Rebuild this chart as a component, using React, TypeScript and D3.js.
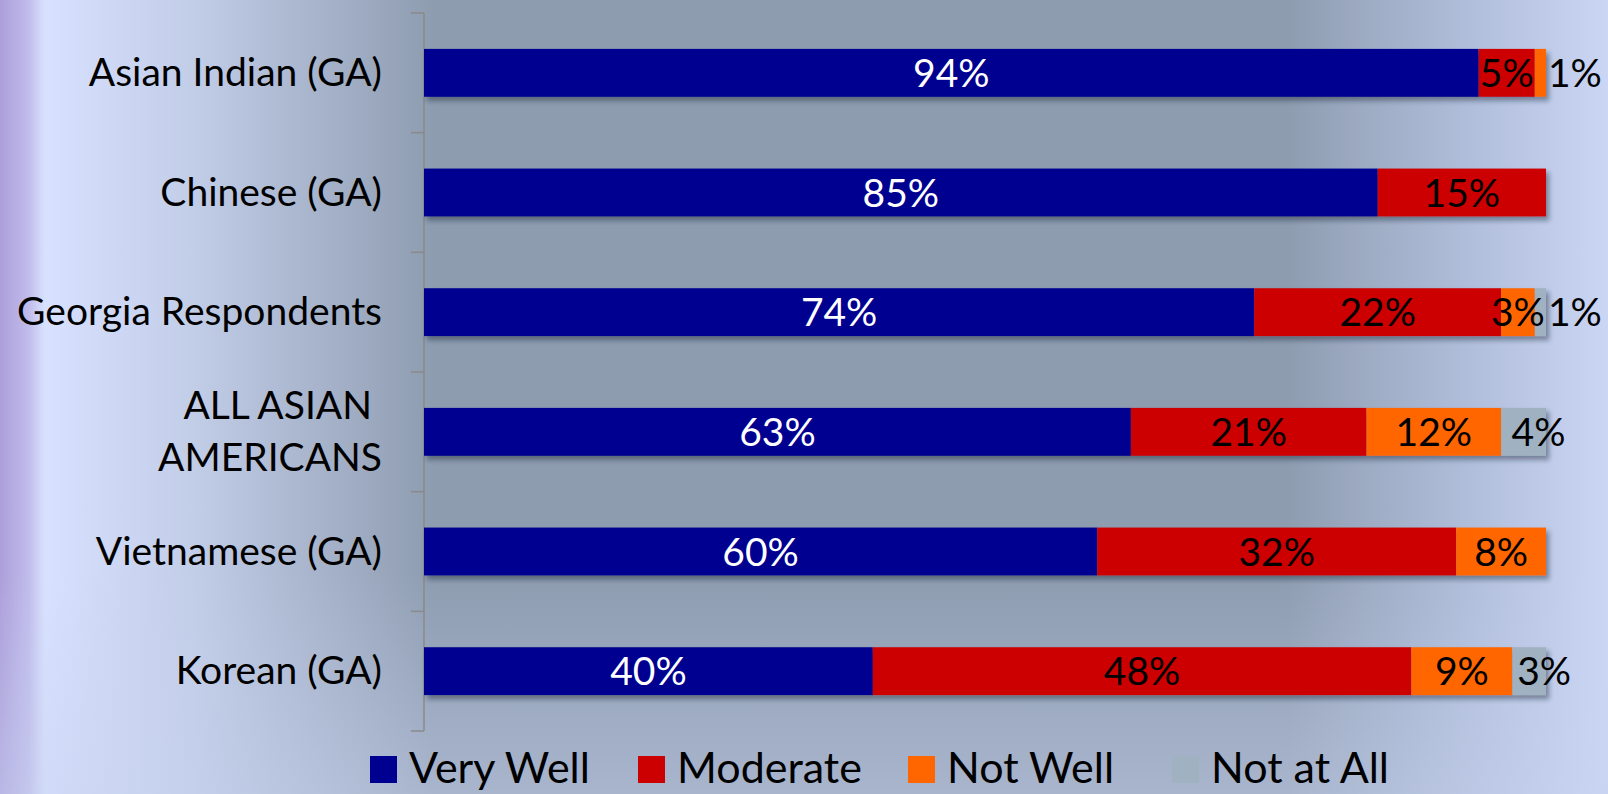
import React from "react";
import * as d3 from "d3";

const categories = [
  "Asian Indian (GA)",
  "Chinese (GA)",
  "Georgia Respondents",
  "ALL ASIAN AMERICANS",
  "Vietnamese (GA)",
  "Korean (GA)",
];
const categoryLines = [
  ["Asian Indian (GA)"],
  ["Chinese (GA)"],
  ["Georgia Respondents"],
  ["ALL ASIAN ", "AMERICANS"],
  ["Vietnamese (GA)"],
  ["Korean (GA)"],
];
const seriesNames = ["Very Well", "Moderate", "Not Well", "Not at All"];
const veryWell = [94, 85, 74, 63, 60, 40];
const moderate = [5, 15, 22, 21, 32, 48];
const notWell = [1, 0, 3, 12, 8, 9];
const notAtAll = [0, 0, 1, 4, 0, 3];

const colors = ["#000090", "#cc0000", "#ff6600", "#a0b1c1"];
const labelColors = ["#ffffff", "#000000", "#000000", "#000000"];

const W = 1608;
const H = 794;
const FONT = "Lato, 'Open Sans', sans-serif";

export default function App() {
  const rows = categories.map((c, i) => ({
    cat: c,
    "Very Well": veryWell[i],
    Moderate: moderate[i],
    "Not Well": notWell[i],
    "Not at All": notAtAll[i],
  }));
  const stacked = d3.stack<any>().keys(seriesNames)(rows);

  const x = d3.scaleLinear().domain([0, 100]).range([424, 1546]);
  const y = d3
    .scaleBand<string>()
    .domain(categories)
    .range([13, 731])
    .paddingInner(0.6)
    .paddingOuter(0.3);
  const step = y.step();
  const boundaries = d3.range(categories.length + 1).map((i) => 13 + i * step);

  const legendX = [370, 638, 908, 1172];
  const legendBaseline = 783;

  return (
    <svg
      width={W}
      height={H}
      style={{ position: "fixed", left: 0, top: 0, display: "block" }}
      fontFamily={FONT}
    >
      <defs>
        <linearGradient id="bgH" x1="0" y1="0" x2="1" y2="0">
          <stop offset="0" stopColor="#ad9fda" />
          <stop offset="0.018" stopColor="#c0bcec" />
          <stop offset="0.024" stopColor="#d0d4f6" />
          <stop offset="0.028" stopColor="#d8e1ff" />
          <stop offset="0.12" stopColor="#c2cde8" />
          <stop offset="0.27" stopColor="#8e9cb0" />
          <stop offset="0.8" stopColor="#8e9cb0" />
          <stop offset="0.9" stopColor="#adbad6" />
          <stop offset="1" stopColor="#cad6f4" />
        </linearGradient>
        <linearGradient id="bgV" x1="0" y1="0" x2="0" y2="1">
          <stop offset="0" stopColor="#c8d4f0" stopOpacity="0" />
          <stop offset="0.72" stopColor="#c8d4f0" stopOpacity="0" />
          <stop offset="1" stopColor="#c8d4f0" stopOpacity="0.45" />
        </linearGradient>
        <filter id="shadow" x="-5%" y="-30%" width="110%" height="170%">
          <feDropShadow dx="3" dy="4" stdDeviation="2.5" floodColor="#1a2030" floodOpacity="0.45" />
        </filter>
      </defs>
      <rect x={0} y={0} width={W} height={H} fill="url(#bgH)" />
      <rect x={0} y={0} width={W} height={H} fill="url(#bgV)" />

      {/* axis */}
      <g stroke="#8a8a8a" strokeWidth={1.5}>
        <line x1={424} x2={424} y1={13} y2={731} />
        {boundaries.map((b, i) => (
          <line key={i} x1={411} x2={424} y1={b} y2={b} />
        ))}
      </g>

      {/* bars */}
      {categories.map((c, ci) => (
        <g key={c} filter="url(#shadow)">
          {stacked.map((s, si) => {
            const d = s[ci];
            const w = x(d[1]) - x(d[0]);
            if (w <= 0) return null;
            return (
              <rect
                key={si}
                x={x(d[0])}
                y={y(c)}
                width={w}
                height={y.bandwidth()}
                fill={colors[si]}
              />
            );
          })}
        </g>
      ))}

      {/* data labels */}
      {categories.map((c, ci) => (
        <g key={c + "l"} fontSize={39}>
          {stacked.map((s, si) => {
            const d = s[ci];
            const v = d[1] - d[0];
            if (v <= 0) return null;
            const cy = (y(c) as number) + y.bandwidth() / 2;
            let lx = (x(d[0]) + x(d[1])) / 2;
            let anchor = "middle";
            if (v <= 1) {
              lx = x(d[1]) + 2;
              anchor = "start";
            } else if (si === 3) {
              lx = (x(d[0]) + x(d[1])) / 2 + 15;
            }
            return (
              <text
                key={si}
                x={lx}
                y={cy}
                dy="0.36em"
                textAnchor={anchor}
                fill={labelColors[si]}
              >
                {`${v}%`}
              </text>
            );
          })}
        </g>
      ))}

      {/* category labels */}
      {categories.map((c, ci) => {
        const lines = categoryLines[ci];
        const cy = (y(c) as number) + y.bandwidth() / 2;
        const lh = 52;
        return (
          <text
            key={c + "c"}
            x={382}
            textAnchor="end"
            fontSize={39}
            fill="#000"
            style={{ whiteSpace: "pre" }}
          >
            {lines.map((ln, li) => (
              <tspan
                key={li}
                x={382}
                y={cy + (li - (lines.length - 1) / 2) * lh}
                dy="0.34em"
              >
                {ln}
              </tspan>
            ))}
          </text>
        );
      })}

      {/* legend */}
      {seriesNames.map((n, i) => (
        <g key={n} transform={`translate(${legendX[i]},0)`}>
          <rect x={0} y={legendBaseline - 27} width={27} height={27} fill={colors[i]} />
          <text x={39} y={legendBaseline} fontSize={43} fill="#000">
            {n}
          </text>
        </g>
      ))}
    </svg>
  );
}
